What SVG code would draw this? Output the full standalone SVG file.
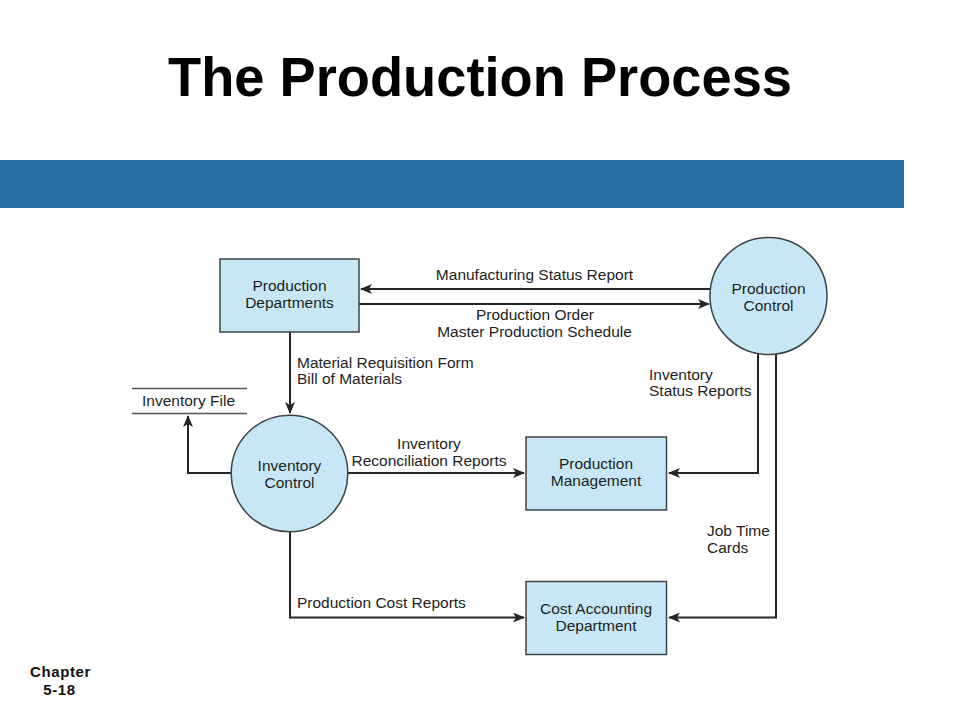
<svg xmlns="http://www.w3.org/2000/svg" width="960" height="720" viewBox="0 0 960 720">
<style>
.node{fill:#c8e7f6;stroke:#3c4448;stroke-width:1.5}
.lbl{font-family:"Liberation Sans",Arial,sans-serif;font-size:15.5px;fill:#1e1e1e}
.c{text-anchor:middle}
.edge{fill:none;stroke:#262626;stroke-width:2}
.store{stroke:#555;stroke-width:1.5}
</style>
<defs>
<marker id="ah" viewBox="0 0 12 10" refX="11" refY="5" markerWidth="12" markerHeight="10" markerUnits="userSpaceOnUse" orient="auto">
<path d="M0,0 L12,5 L0,10 L3,5 Z" fill="#262626"/>
</marker>
</defs>
<rect width="960" height="720" fill="#ffffff"/>
<text x="480" y="96" text-anchor="middle" font-family="'Liberation Sans',Arial,sans-serif" font-weight="bold" font-size="56" textLength="624" lengthAdjust="spacingAndGlyphs" fill="#000">The Production Process</text>
<rect x="0" y="160" width="904" height="48" fill="#2670a6"/>

<g id="connectors">
<line class="edge" x1="710" y1="289" x2="361" y2="289" marker-end="url(#ah)"/>
<line class="edge" x1="359" y1="304" x2="709" y2="304" marker-end="url(#ah)"/>
<line class="edge" x1="290" y1="332" x2="290" y2="413" marker-end="url(#ah)"/>
<polyline class="edge" points="231,473 188,473 188,416" marker-end="url(#ah)"/>
<line class="edge" x1="348" y1="473" x2="524" y2="473" marker-end="url(#ah)"/>
<polyline class="edge" points="290,532 290,617.5 524,617.5" marker-end="url(#ah)"/>
<polyline class="edge" points="758,353 758,473 669,473" marker-end="url(#ah)"/>
<polyline class="edge" points="776,351 776,617.5 669,617.5" marker-end="url(#ah)"/>
</g>

<g id="edge-labels">
<text class="lbl c" x="534.5" y="280">Manufacturing Status Report</text>
<text class="lbl c" x="535" y="320">Production Order</text>
<text class="lbl c" x="534.5" y="337">Master Production Schedule</text>
<text class="lbl" x="297" y="368">Material Requisition Form</text>
<text class="lbl" x="297" y="384">Bill of Materials</text>
<text class="lbl" x="649" y="380">Inventory</text>
<text class="lbl" x="649" y="396">Status Reports</text>
<text class="lbl c" x="429" y="448.5">Inventory</text>
<text class="lbl c" x="429" y="465.5">Reconciliation Reports</text>
<text class="lbl" x="297" y="607.5">Production Cost Reports</text>
<text class="lbl" x="707" y="536">Job Time</text>
<text class="lbl" x="707" y="553">Cards</text>
</g>

<g id="production-departments">
<rect class="node" x="220" y="259" width="139" height="73"/>
<text class="lbl c" x="289.5" y="291">Production</text>
<text class="lbl c" x="289.5" y="308">Departments</text>
</g>

<g id="production-control">
<circle class="node" cx="768.5" cy="296" r="58.5"/>
<text class="lbl c" x="768.5" y="293.5">Production</text>
<text class="lbl c" x="768.5" y="311">Control</text>
</g>

<g id="inventory-file">
<line class="store" x1="132" y1="388.5" x2="247" y2="388.5"/>
<line class="store" x1="132" y1="413.5" x2="247" y2="413.5"/>
<text class="lbl c" x="188.5" y="406">Inventory File</text>
</g>

<g id="inventory-control">
<circle class="node" cx="289.5" cy="473.5" r="58.3"/>
<text class="lbl c" x="289.5" y="471">Inventory</text>
<text class="lbl c" x="289.5" y="488">Control</text>
</g>

<g id="production-management">
<rect class="node" x="526" y="437" width="140.5" height="73"/>
<text class="lbl c" x="596" y="469">Production</text>
<text class="lbl c" x="596" y="486">Management</text>
</g>

<g id="cost-accounting">
<rect class="node" x="526" y="581.5" width="140.5" height="73"/>
<text class="lbl c" x="596" y="613.5">Cost Accounting</text>
<text class="lbl c" x="596" y="630.5">Department</text>
</g>

<text x="60.5" y="676.5" text-anchor="middle" font-family="'Liberation Sans',Arial,sans-serif" font-weight="bold" font-size="15" letter-spacing="0.6" fill="#111">Chapter</text>
<text x="59.5" y="695" text-anchor="middle" font-family="'Liberation Sans',Arial,sans-serif" font-weight="bold" font-size="15" letter-spacing="0.6" fill="#111">5-18</text>
</svg>
